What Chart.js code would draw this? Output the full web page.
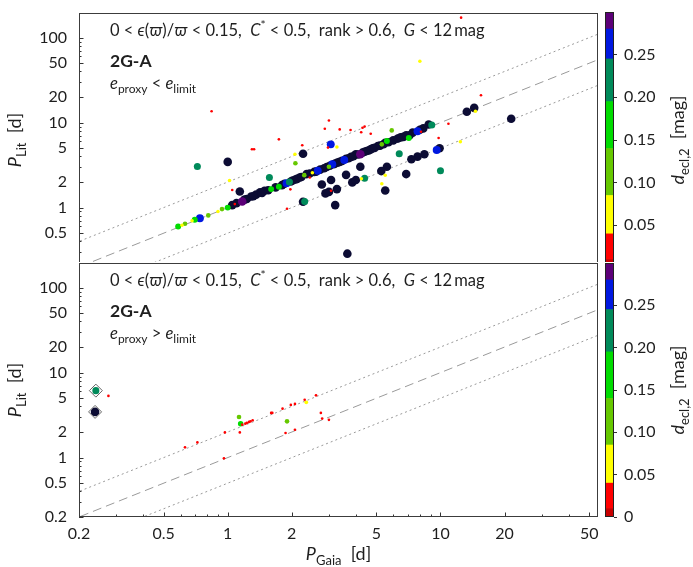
<!DOCTYPE html>
<html lang="en">
<head>
<meta charset="UTF-8" />
<title>2G-A periods: Gaia vs literature</title>
<script src="https://cdn.jsdelivr.net/npm/chart.js"></script>
<style>
  html, body { margin: 0; padding: 0; background: #fff; }
  #wrap { position: relative; width: 693px; height: 567px; overflow: hidden; background: #fff; }
  canvas { position: absolute; }
  #topPlot { left: 0; top: 0; }
  #topBar { left: 600px; top: 0; }
  #botPlot { left: 0; top: 262px; background: #fff; }
  #botBar { left: 600px; top: 262px; background: #fff; }
</style>
</head>
<body>
<div id="wrap">
  <canvas id="topPlot" width="600" height="270"></canvas>
  <canvas id="topBar" width="93" height="270"></canvas>
  <canvas id="botPlot" width="600" height="305"></canvas>
  <canvas id="botBar" width="93" height="305"></canvas>
</div>
<script>
// ---- data ----
// upper panel: e_proxy < e_limit
const topGaia = [
  0.585, 0.61, 0.63, 0.68, 0.70, 0.74, 0.81, 0.90, 0.94, 1.00, 1.05, 1.08, 1.17, 1.23, 1.29,
  1.36, 1.42, 1.49, 1.60, 1.74, 1.80, 1.89, 1.95, 1.98, 2.08, 2.18, 2.29, 2.35, 2.43, 2.50,
  2.60, 2.65, 2.84, 2.99, 3.10, 3.20, 3.36, 3.53, 3.60, 3.80, 4.00, 4.20, 4.40, 4.60, 4.80,
  5.08, 5.30, 5.50, 5.60, 6.70, 7.10, 7.16, 7.80, 8.80, 9.10, 13.3, 14.4, 14.6, 21.5, 2.43,
  1.97,
  1.10, 1.20, 1.32, 1.45, 1.55, 1.68, 1.85, 2.02, 2.12, 2.22, 2.55, 2.72, 2.92, 3.02, 3.15,
  3.28, 3.45, 3.70, 3.90, 4.10, 4.30, 4.50, 4.70, 4.90, 5.20, 5.40, 5.70, 6.00, 6.30, 6.50,
  6.90, 7.40, 8.00, 8.30,
  0.72, 1.00, 1.30, 1.33, 1.74, 2.24, 2.07, 2.26, 2.08, 1.57, 1.02, 0.84, 2.99, 2.86, 3.36,
  3.78, 4.30, 4.40, 4.24, 4.70, 5.90, 10.9, 9.80, 8.10, 3.05, 3.26, 2.96, 8.00, 12.5, 15.5,
  6.40, 12.4, 10.0, 9.60, 9.90,
  8.40, 7.80, 7.30, 6.90, 5.60, 5.27, 5.50, 5.30, 5.50, 4.20, 3.60, 3.06, 2.77, 2.99, 3.26,
  3.06, 3.85, 4.00, 4.40, 4.25, 3.20, 3.65, 2.26, 2.30, 1.14, 1.05, 1.90, 2.88
];
const topLit = [
  0.60, 0.62, 0.645, 0.70, 0.72, 0.75, 0.81, 0.90, 0.96, 1.00, 1.07, 1.10, 1.18, 1.26, 1.35,
  1.42, 1.51, 1.58, 1.65, 1.76, 1.84, 1.94, 2.00, 2.03, 2.14, 2.26, 2.41, 2.48, 2.52, 2.57,
  2.65, 2.71, 2.91, 3.02, 3.24, 3.30, 3.45, 3.64, 3.75, 3.95, 4.25, 4.25, 4.55, 4.70, 5.00,
  5.30, 5.55, 5.80, 6.07, 6.80, 6.60, 7.10, 7.90, 9.50, 9.40, 13.4, 14.9, 13.6, 11.1, 2.26,
  1.64,
  1.13, 1.24, 1.36, 1.49, 1.60, 1.73, 1.91, 2.08, 2.18, 2.29, 2.63, 2.80, 3.01, 3.11, 3.24,
  3.38, 3.55, 3.81, 4.02, 4.22, 4.43, 4.64, 4.84, 5.05, 5.36, 5.56, 5.87, 6.18, 6.49, 6.70,
  7.11, 7.62, 8.24, 8.55,
  3.04, 3.45, 4.86, 4.86, 6.36, 5.41, 4.25, 4.30, 3.33, 2.26, 2.09, 13.6, 10.6, 8.46, 8.32,
  8.18, 8.70, 9.00, 7.70, 7.40, 8.10, 9.70, 6.60, 7.80, 5.55, 5.17, 5.08, 52.6, 172, 21.0,
  4.30, 5.96, 2.71, 4.77, 5.00,
  4.25, 3.98, 3.71, 2.48, 3.02, 2.69, 2.41, 1.91, 1.59, 3.02, 2.43, 2.11, 1.87, 1.53, 1.65,
  1.58, 1.98, 2.11, 2.22, 2.18, 1.07, 0.287, 1.17, 1.18, 1.55, 1.61, 0.97, 1.47
];
const topDepth = [
  0.17, 0.06, 0.11, 0.06, 0.17, 0.26, 0.11, 0.06, 0.11, 0.17, 0.35, 0.02, 0.29, 0.35, 0.35,
  0.35, 0.35, 0.35, 0.17, 0.17, 0.35, 0.26, 0.22, 0.35, 0.35, 0.35, 0.11, 0.35, 0.35, 0.06,
  0.35, 0.26, 0.35, 0.11, 0.26, 0.35, 0.35, 0.26, 0.35, 0.35, 0.35, 0.29, 0.35, 0.35, 0.35,
  0.35, 0.11, 0.35, 0.17, 0.35, 0.17, 0.35, 0.26, 0.35, 0.22, 0.35, 0.35, 0.06, 0.35, 0.02,
  0.02,
  0.35, 0.35, 0.35, 0.35, 0.35, 0.35, 0.35, 0.35, 0.35, 0.35, 0.35, 0.35, 0.35, 0.35, 0.35,
  0.35, 0.35, 0.35, 0.35, 0.35, 0.35, 0.35, 0.35, 0.35, 0.35, 0.35, 0.35, 0.35, 0.35, 0.35,
  0.35, 0.35, 0.35, 0.35,
  0.22, 0.35, 0.02, 0.02, 0.02, 0.02, 0.06, 0.35, 0.11, 0.22, 0.06, 0.02, 0.02, 0.02, 0.02,
  0.02, 0.02, 0.02, 0.02, 0.02, 0.11, 0.02, 0.02, 0.02, 0.26, 0.06, 0.02, 0.06, 0.02, 0.02,
  0.22, 0.06, 0.22, 0.26, 0.35,
  0.35, 0.35, 0.35, 0.35, 0.35, 0.35, 0.06, 0.06, 0.35, 0.35, 0.35, 0.35, 0.35, 0.35, 0.35,
  0.02, 0.35, 0.35, 0.22, 0.06, 0.35, 0.35, 0.35, 0.22, 0.35, 0.02, 0.02, 0.35
];

// lower panel: e_proxy > e_limit
const botGaia = [
  0.275, 0.63, 0.72, 0.96, 0.97, 1.13, 1.15, 1.14, 1.17, 1.21, 1.23, 1.26, 1.28, 1.31, 1.60,
  1.62, 1.81, 1.98, 2.07, 1.87, 2.07, 1.90, 2.34, 2.30, 2.60, 2.74, 2.78, 2.99, 0.24, 0.238
];
const botLit = [
  5.32, 1.32, 1.51, 0.98, 1.98, 3.01, 2.51, 1.98, 2.44, 2.51, 2.56, 2.63, 2.67, 2.75, 3.36,
  3.36, 3.77, 4.17, 4.28, 1.95, 2.13, 2.67, 4.47, 4.80, 5.40, 3.36, 2.88, 2.78, 6.14, 3.45
];
const botDepth = [
  0.02, 0.02, 0.02, 0.02, 0.02, 0.11, 0.15, 0.02, 0.02, 0.02, 0.02, 0.02, 0.02, 0.02, 0.02,
  0.02, 0.02, 0.02, 0.02, 0.02, 0.02, 0.11, 0.07, 0.02, 0.02, 0.02, 0.02, 0.02, 0.22, 0.35
];
// sources marked with a diamond in the lower panel
const flagGaia = [0.24, 0.238];
const flagLit = [6.14, 3.45];

// reference relations P_Lit = r * P_Gaia
const refRatios = [0.5, 1, 2];
const refSpan = [0.1, 100];

// axis ticks
const xTicks = [0.2, 0.5, 1, 2, 5, 10, 20, 50];
const yTicks = [0.2, 0.5, 1, 2, 5, 10, 20, 50, 100];
const cbTicks = [0, 0.05, 0.10, 0.15, 0.20, 0.25];

// colour scale of d_ecl,2
const cbBounds = [0, 0.01, 0.04, 0.085, 0.14, 0.195, 0.245, 0.28, 0.30];
const cbColors = ['#c80000', '#ff0000', '#ffff00', '#66c800', '#00dc00', '#008a5a', '#0018e0', '#5c0078'];
const overColor = '#0c0c34';

// ---- drawing ----
const FONT = 'Lato, "DejaVu Sans", sans-serif';
Chart.defaults.font.family = FONT;
Chart.defaults.font.size = 16;
Chart.defaults.color = '#1e1e1e';

function colorFor(d) {
  if (d >= cbBounds[cbBounds.length - 1]) return overColor;
  for (let i = 0; i < cbColors.length; i++) {
    if (d < cbBounds[i + 1]) return cbColors[i];
  }
  return overColor;
}
function radiusFor(d) {
  return Math.min(4.3, 1.1 + 11 * d);
}
// keep tick labels from pushing the plot area around
function noEdgePad(s) {
  s.paddingTop = 0; s.paddingBottom = 0; s.paddingLeft = 0; s.paddingRight = 0;
}

function richText(ctx, parts, x, y, size, align) {
  const fonts = {
    n: size + 'px ' + FONT,
    i: 'italic ' + size + 'px ' + FONT,
    b: 'bold ' + size + 'px ' + FONT,
    sub: Math.round(size * 0.72) + 'px ' + FONT,
    sup: Math.round(size * 0.72) + 'px ' + FONT
  };
  const shift = { n: 0, i: 0, b: 0, sub: size * 0.26, sup: -size * 0.4 };
  let width = 0;
  parts.forEach(([t, k]) => { ctx.font = fonts[k]; width += ctx.measureText(t).width; });
  let cx = align === 'center' ? x - width / 2 : x;
  ctx.textAlign = 'left';
  ctx.textBaseline = 'alphabetic';
  parts.forEach(([t, k]) => {
    ctx.font = fonts[k];
    ctx.fillText(t, cx, y + shift[k]);
    cx += ctx.measureText(t).width;
  });
}

const cutText = [
  ['0 < ', 'n'], ['\u03f5', 'i'], ['(', 'n'], ['\u03d6', 'i'], [')/', 'n'], ['\u03d6', 'i'],
  [' < 0.15,  ', 'n'], ['C', 'i'], ['*', 'sup'], [' < 0.5,  rank > 0.6,  ', 'n'],
  ['G', 'i'], [' < 12\u2009mag', 'n']
];

function logMarks(scale, majors) {
  const out = [];
  for (let e = -1; e <= 2; e++) {
    for (let k = 1; k <= 9; k++) {
      const v = k * Math.pow(10, e);
      if (v < scale.min * 0.999 || v > scale.max * 1.001) continue;
      const major = majors.some(m => Math.abs(m - v) < 1e-6 * v);
      out.push({ p: scale.getPixelForValue(v), major });
    }
  }
  return out;
}

const panelDecor = {
  id: 'panelDecor',
  afterDatasetsDraw(chart, args, opts) {
    const { ctx, chartArea: a, scales } = chart;
    ctx.save();
    ctx.strokeStyle = '#333';
    ctx.lineWidth = 1;
    ctx.beginPath();
    logMarks(scales.y, yTicks).forEach(t => {
      const y = Math.round(t.p) + 0.5;
      ctx.moveTo(a.left, y);
      ctx.lineTo(a.left + (t.major ? 4.5 : 2.5), y);
    });
    logMarks(scales.x, xTicks).forEach(t => {
      const x = Math.round(t.p) + 0.5;
      ctx.moveTo(x, a.bottom);
      ctx.lineTo(x, a.bottom - (t.major ? 4.5 : 2.5));
    });
    ctx.stroke();
    ctx.strokeStyle = '#3c3c3c';
    ctx.strokeRect(a.left + 0.5, a.top + 0.5, a.right - a.left - 1, a.bottom - a.top - 1);

    ctx.fillStyle = '#1e1e1e';
    const x0 = 110;
    richText(ctx, cutText, x0, a.top + 23, 16.5, 'left');
    richText(ctx, [['2G-A', 'b']], x0, a.top + 54, 17.5, 'left');
    richText(ctx, [['e', 'i'], ['proxy', 'sub'], [' ' + opts.relation + ' ', 'n'], ['e', 'i'], ['limit', 'sub']],
      x0, a.top + 76, 16.5, 'left');

    ctx.save();
    ctx.translate(21, (a.top + a.bottom) / 2);
    ctx.rotate(-Math.PI / 2);
    richText(ctx, [['P', 'i'], ['Lit', 'sub'], ['  [d]', 'n']], 0, 0, 18, 'center');
    ctx.restore();

    if (opts.xLabel) {
      richText(ctx, [['P', 'i'], ['Gaia', 'sub'], ['  [d]', 'n']], (a.left + a.right) / 2, 298, 18, 'center');
    }
    ctx.restore();
  }
};

function panelConfig(gaia, lit, depth, o) {
  const pts = gaia.map((g, i) => ({ x: g, y: lit[i], d: depth[i] }));
  const coloured = pts.filter(p => p.d <= cbBounds[cbBounds.length - 1]).sort((p, q) => q.d - p.d);
  const over = pts.filter(p => p.d > cbBounds[cbBounds.length - 1]);
  const pointStyle = {
    pointBackgroundColor: c => c.raw ? colorFor(c.raw.d) : '#000',
    pointRadius: c => c.raw ? radiusFor(c.raw.d) : 2,
    pointBorderWidth: 0,
    pointBorderColor: 'rgba(0,0,0,0)'
  };
  const datasets = [];
  if (o.flags) {
    datasets.push({
      data: o.flags, order: 0, pointStyle: 'rectRot', pointRadius: 6.5,
      pointBackgroundColor: 'rgba(0,0,0,0)', pointBorderColor: '#666', pointBorderWidth: 1
    });
  }
  datasets.push(Object.assign({ data: coloured, order: 1 }, pointStyle));
  datasets.push(Object.assign({ data: over, order: 2 }, pointStyle));
  refRatios.forEach(r => {
    datasets.push({
      data: refSpan.map(x => ({ x: x, y: r * x })),
      order: 3, showLine: true, pointRadius: 0, borderWidth: 1, borderColor: '#9a9a9a',
      borderDash: r === 1 ? [9, 5] : [2, 3]
    });
  });
  return {
    type: 'scatter',
    data: { datasets },
    options: {
      responsive: false, devicePixelRatio: 1, animation: false,
      layout: { padding: o.padding, autoPadding: false },
      scales: {
        x: {
          type: 'logarithmic', min: 0.2, max: 55, display: o.xLabel,
          afterBuildTicks: s => { s.ticks = xTicks.map(v => ({ value: v })); },
          afterFit: s => { s.height = o.xLabel ? 50 : 0; noEdgePad(s); },
          ticks: { callback: v => String(v), padding: 7, autoSkip: false, maxRotation: 0 },
          grid: { display: false, drawTicks: false }, border: { display: false }
        },
        y: {
          type: 'logarithmic', min: 0.2, max: 195,
          afterBuildTicks: s => { s.ticks = o.yTicks.map(v => ({ value: v })); },
          afterFit: s => { s.width = 79; noEdgePad(s); },
          ticks: { callback: v => String(v), padding: 12, autoSkip: false },
          grid: { display: false, drawTicks: false }, border: { display: false }
        }
      },
      plugins: {
        legend: { display: false }, tooltip: { enabled: false },
        panelDecor: { relation: o.relation, xLabel: o.xLabel }
      }
    },
    plugins: [panelDecor]
  };
}

const barDecor = {
  id: 'barDecor',
  afterDraw(chart) {
    const { ctx, chartArea: a } = chart;
    ctx.save();
    ctx.strokeStyle = '#222';
    ctx.lineWidth = 1;
    ctx.strokeRect(a.left + 0.5, a.top + 0.5, a.right - a.left - 1, a.bottom - a.top - 1);
    ctx.fillStyle = '#1e1e1e';
    ctx.translate(84, (a.top + a.bottom) / 2);
    ctx.rotate(-Math.PI / 2);
    richText(ctx, [['d', 'i'], ['ecl,2', 'sub'], ['  [mag]', 'n']], 0, 0, 18, 'center');
    ctx.restore();
  }
};

function barConfig(padding, labels) {
  return {
    type: 'bar',
    data: {
      labels: [''],
      datasets: cbColors.map((c, i) => ({
        data: [[cbBounds[i], cbBounds[i + 1]]], backgroundColor: c, borderWidth: 0,
        barPercentage: 1, categoryPercentage: 1, grouped: false
      }))
    },
    options: {
      responsive: false, devicePixelRatio: 1, animation: false,
      layout: { padding: padding, autoPadding: false },
      scales: {
        x: { display: false },
        y: {
          position: 'right', min: 0, max: cbBounds[cbBounds.length - 1],
          afterBuildTicks: s => { s.ticks = labels.map(v => ({ value: v })); },
          afterFit: s => { s.width = 79; noEdgePad(s); },
          ticks: { callback: v => v === 0 ? '0' : v.toFixed(2), padding: 7, autoSkip: false },
          grid: { drawOnChartArea: false, drawTicks: true, tickLength: 3, color: '#333' },
          border: { display: false }
        }
      },
      plugins: { legend: { display: false }, tooltip: { enabled: false } }
    },
    plugins: [barDecor]
  };
}

new Chart(document.getElementById('topPlot'), panelConfig(topGaia, topLit, topDepth, {
  relation: '<', xLabel: false, yTicks: yTicks.slice(1),
  padding: { left: 0, right: 2, top: 13, bottom: 3 }
}));
new Chart(document.getElementById('topBar'), barConfig({ left: 5, right: 0, top: 12, bottom: 2 }, cbTicks.slice(1)));
new Chart(document.getElementById('botPlot'), panelConfig(botGaia, botLit, botDepth, {
  relation: '>', xLabel: true, yTicks: yTicks,
  flags: flagGaia.map((g, i) => ({ x: g, y: flagLit[i] })),
  padding: { left: 0, right: 2, top: 1, bottom: 0 }
}));
new Chart(document.getElementById('botBar'), barConfig({ left: 5, right: 0, top: 1, bottom: 50 }, cbTicks));
</script>
</body>
</html>
